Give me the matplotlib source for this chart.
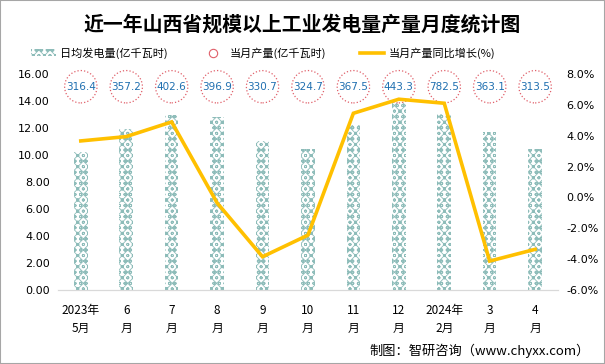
import numpy as np
import matplotlib
matplotlib.use('Agg')
import matplotlib.pyplot as plt
from matplotlib.patches import Patch, Rectangle
from matplotlib.lines import Line2D

plt.rcParams['font.family'] = ['Noto Sans CJK SC', 'DejaVu Sans']
plt.rcParams['hatch.linewidth'] = 0.6

months = ['2023年\n5月', '6\n月', '7\n月', '8\n月', '9\n月', '10\n月', '11\n月', '12\n月', '2024年\n2月', '3\n月', '4\n月']
daily = [10.21, 11.91, 12.99, 12.80, 11.02, 10.47, 12.25, 14.30, 13.04, 11.71, 10.45]
monthly = [316.4, 357.2, 402.6, 396.9, 330.7, 324.7, 367.5, 443.3, 782.5, 363.1, 313.5]
growth = [3.66, 3.94, 4.89, -0.35, -3.84, -2.44, 5.45, 6.36, 6.10, -4.12, -3.36]

teal = '#8dbcb9'
gold = '#FFC000'
pattern = 'xxxooo'

fig = plt.figure(figsize=(6.05, 3.64), dpi=100)
ax = fig.add_axes([0.096, 0.203, 0.826, 0.594])
ax2 = ax.twinx()

x = np.arange(len(months))
ax.bar(x, daily, width=0.3, facecolor='white', edgecolor=teal, linewidth=0, hatch=pattern, zorder=2)

for xi, v in zip(x, monthly):
    ax.text(xi, 15.05, f'{v:.1f}', ha='center', va='center', fontsize=7.5, color='#1f6fb0',
            family='DejaVu Sans', zorder=4,
            bbox=dict(boxstyle='circle,pad=0.12', facecolor='white', edgecolor='#e0606a',
                      linestyle=':', linewidth=0.9))

ax2.plot(x, growth, color=gold, linewidth=2.6, solid_joinstyle='miter', zorder=3)

ax.set_xlim(-0.5, len(months) - 0.5)
ax.set_ylim(0, 16)
ax.set_yticks(np.arange(0, 16.1, 2))
ax.set_yticklabels([f'{v:.2f}' for v in np.arange(0, 16.1, 2)], fontsize=8, family='DejaVu Sans')
ax2.set_ylim(-6, 8)
ax2.set_yticks(np.arange(-6, 8.1, 2))
ax2.set_yticklabels([f'{v:.1f}%' for v in np.arange(-6, 8.1, 2)], fontsize=8, family='DejaVu Sans')
ax.set_xticks(x)
ax.set_xticklabels(months, fontsize=8.5, linespacing=1.5)

for a in (ax, ax2):
    for s in ['top', 'left', 'right']:
        a.spines[s].set_visible(False)
    a.spines['bottom'].set_color('#d9d9d9')
    a.tick_params(length=0, pad=6)
ax.tick_params(axis='x', pad=10)

fig.text(0.5, 0.935, '近一年山西省规模以上工业发电量产量月度统计图', ha='center', va='center',
         fontsize=14.3, fontweight='bold')

handles = [Patch(facecolor='white', edgecolor=teal, linewidth=0, hatch=pattern),
           Line2D([], [], linestyle='none', marker='o', markersize=6, markerfacecolor='none',
                  markeredgecolor='#e0606a', markeredgewidth=0.8),
           Line2D([], [], color=gold, linewidth=2.6)]
labels = ['日均发电量(亿千瓦时)', '当月产量(亿千瓦时)', '当月产量同比增长(%)']
fig.legend(handles, labels, loc='center', bbox_to_anchor=(0.435, 0.855), ncol=3, frameon=False,
           fontsize=8, handlelength=2.2, handleheight=0.5, columnspacing=3.0, handletextpad=0.4)

fig.text(0.975, 0.037, '制图：智研咨询（www.chyxx.com）', ha='right', va='center', fontsize=9.5)

fig.patches.append(Rectangle((0, 0), 1, 1, transform=fig.transFigure, fill=False,
                             edgecolor='#a6a6a6', linewidth=1.5))

fig.savefig('out.png', dpi=100)
